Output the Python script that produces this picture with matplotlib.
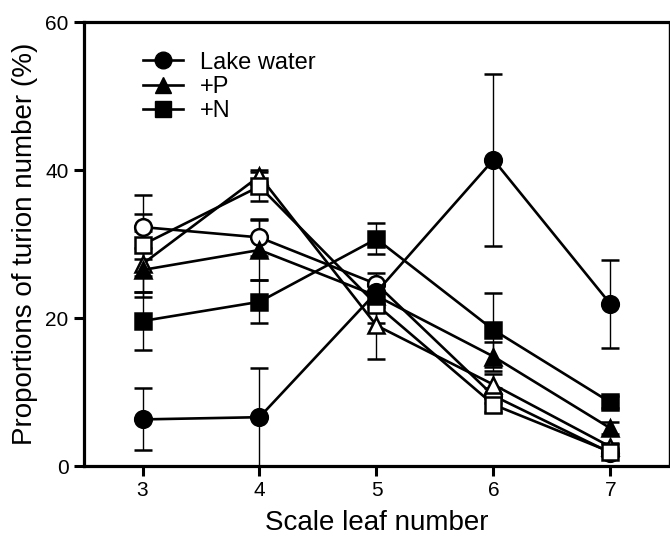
import matplotlib
matplotlib.use("Agg")
import matplotlib.pyplot as plt
from matplotlib.lines import Line2D

plt.rcParams["font.family"] = ["Liberation Sans", "DejaVu Sans"]

leaf = [3, 4, 5, 6, 7]

# filled symbols (legend) and open symbols (same treatments, second set)
lake = [6.3, 6.6, 23.5, 41.4, 21.9]
lake_err = [4.2, 6.6, 1.5, 11.6, 6.0]
plus_p = [26.5, 29.2, 23.0, 14.8, 5.1]
plus_p_err = [3.0, 4.0, 1.5, 2.0, 0.8]
plus_n = [19.6, 22.2, 30.7, 18.4, 8.6]
plus_n_err = [3.9, 2.9, 2.1, 5.0, 0.8]

lake_o = [32.3, 30.9, 24.6, 9.5, 1.8]
lake_o_err = [4.3, 2.5, 1.5, 1.0, 0.5]
plus_p_o = [27.3, 39.2, 19.0, 11.0, 2.6]
plus_p_o_err = [4.5, 0.8, 4.5, 1.5, 0.5]
plus_n_o = [29.9, 37.8, 21.8, 8.3, 1.9]
plus_n_o_err = [4.2, 2.0, 2.5, 1.0, 0.5]

legend_labels = ["Lake water", "+P", "+N"]

fig = plt.figure(figsize=(6.7, 5.4), dpi=100)
ax = fig.add_axes([0.1254, 0.137, 0.873, 0.822])

series = [
    (lake_o, lake_o_err, "o", "white"),
    (plus_p_o, plus_p_o_err, "^", "white"),
    (plus_n_o, plus_n_o_err, "s", "white"),
    (lake, lake_err, "o", "black"),
    (plus_p, plus_p_err, "^", "black"),
    (plus_n, plus_n_err, "s", "black"),
]

for vals, err, mk, fc in series:
    ax.errorbar(leaf, vals, yerr=err, fmt="-", marker=mk, color="black",
                mfc=fc, mec="black", mew=1.8, ms=12, lw=1.9,
                elinewidth=1.0, capsize=6.5, capthick=1.0)

ax.set_xlim(2.5, 7.5)
ax.set_ylim(0, 60)
ax.set_xticks(leaf)
ax.set_yticks([0, 20, 40, 60])
ax.tick_params(axis="both", direction="out", length=7, width=2.2,
               labelsize=15, pad=4)

for s in ["left", "bottom", "top"]:
    ax.spines[s].set_linewidth(2.3)
ax.spines["right"].set_linewidth(1.0)

ax.set_xlabel("Scale leaf number", fontsize=20, labelpad=7)
ax.set_ylabel("Proportions of turion number (%)", fontsize=20, labelpad=5)

handles = [Line2D([], [], color="black", lw=1.9, marker=m, ms=12)
           for m in ["o", "^", "s"]]
ax.legend(handles=handles, labels=legend_labels,
          loc="upper left", bbox_to_anchor=(0.085, 0.955), frameon=False,
          fontsize=17, handlelength=1.7, handletextpad=0.7,
          labelspacing=0.1, borderaxespad=0)

fig.savefig("out.png", dpi=100)
